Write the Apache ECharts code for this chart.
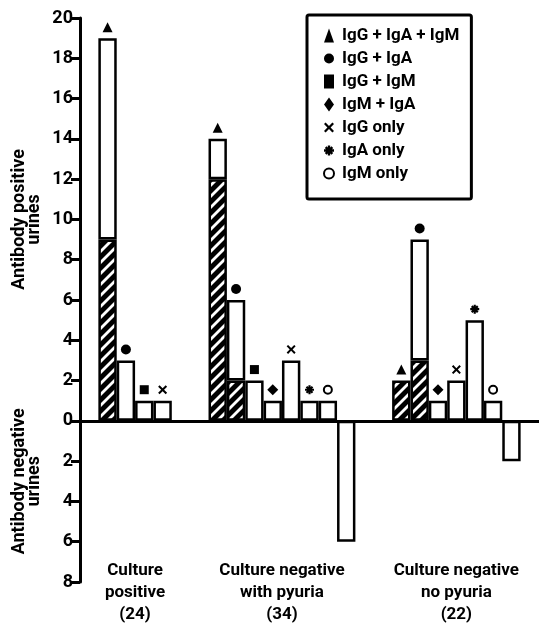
<!DOCTYPE html>
<html>
<head>
<meta charset="utf-8">
<script src="https://cdn.jsdelivr.net/npm/echarts@6/dist/echarts.min.js"></script>
<style>
html,body{margin:0;padding:0;background:#fff;}
#main{width:539px;height:626px;}
</style>
</head>
<body>
<div id="main"></div>
<script>
// antibody class combinations, legend order
const combos = ['IgG + IgA + IgM', 'IgG + IgA', 'IgG + IgM', 'IgM + IgA', 'IgG only', 'IgA only', 'IgM only'];
const groupNames = ['Culture\npositive\n(24)', 'Culture negative\nwith pyuria\n(34)', 'Culture negative\nno pyuria\n(22)'];

// per group: combo of each bar, bar total, hatched part, antibody negative count
const groupCombos = [[0, 1, 2, 4], [0, 1, 2, 3, 4, 5, 6], [0, 1, 3, 4, 5, 6]];
const groupTotals = [[19, 3, 1, 1], [14, 6, 2, 1, 3, 1, 1], [2, 9, 1, 2, 5, 1]];
const groupHatched = [[9, 0, 0, 0], [12, 2, 0, 0, 0, 0, 0], [2, 3, 0, 0, 0, 0]];
const groupNegative = [0, 6, 2];

// build the bar slots (one empty slot before, two between groups, one after)
let cats = [], hatched = [], open = [], neg = [], groupCenters = [];
let marks = combos.map(() => []);
function pushEmpty() {
	cats.push('slot' + cats.length); hatched.push('-'); open.push('-'); neg.push('-');
}
pushEmpty();
groupCombos.forEach((list, g) => {
	if (g > 0) { pushEmpty(); pushEmpty(); }
	const first = cats.length;
	list.forEach((c, i) => {
		const idx = cats.length;
		const t = groupTotals[g][i], h = groupHatched[g][i];
		cats.push('slot' + idx);
		hatched.push(h > 0 ? h : '-');
		open.push(t - h > 0 ? t - h : '-');
		neg.push('-');
		marks[c].push([idx, t]);
	});
	if (groupNegative[g] > 0) {
		cats.push('slot' + cats.length); hatched.push('-'); open.push('-'); neg.push(-groupNegative[g]);
	}
	groupCenters.push((first + cats.length) / 2);
});
pushEmpty();

// hatch pattern: white diagonal stripes on black
const hatch = document.createElement('canvas');
hatch.width = 11; hatch.height = 11;
const hc = hatch.getContext('2d');
hc.fillStyle = '#000'; hc.fillRect(0, 0, 11, 11);
hc.strokeStyle = '#fff'; hc.lineWidth = 2.8;
[-11, 0, 11].forEach(dx => {
	hc.beginPath(); hc.moveTo(dx - 1, 12); hc.lineTo(dx + 12, -1); hc.stroke();
});

const symbols = [
	'triangle', 'circle', 'rect', 'diamond',
	'path://M0,1.6L1.6,0L5,3.4L8.4,0L10,1.6L6.6,5L10,8.4L8.4,10L5,6.6L1.6,10L0,8.4L3.4,5Z',
	'path://M3.8,0H6.2V10H3.8Z M0,3.8H10V6.2H0Z M0.8,2.5L2.5,0.8L9.2,7.5L7.5,9.2Z M7.5,0.8L9.2,2.5L2.5,9.2L0.8,7.5Z',
	'emptyCircle'
];
const symbolSizes = [10, 10, 9, 11, 9, 9, 8];

const font = 'Roboto';
let chart = echarts.init(document.getElementById('main'));

let barBase = {
	type: 'bar', stack: 'n', barWidth: '100%', barCategoryGap: '0%',
	silent: true
};

let series = [
	Object.assign({}, barBase, { name: 'hatched', data: hatched,
		itemStyle: { color: { image: hatch, repeat: 'repeat' }, borderColor: '#000', borderWidth: 2.5 } }),
	Object.assign({}, barBase, { name: 'open', data: open,
		itemStyle: { color: '#fff', borderColor: '#000', borderWidth: 2.5 } }),
	Object.assign({}, barBase, { name: 'negative', data: neg,
		itemStyle: { color: '#fff', borderColor: '#000', borderWidth: 2.5 } })
];
combos.forEach((name, c) => {
	series.push({
		type: 'scatter', name: name, data: marks[c],
		symbol: symbols[c], symbolSize: symbolSizes[c], symbolOffset: [0, -11],
		symbolKeepAspect: true, z: 5,
		itemStyle: { color: '#000', borderColor: '#000', borderWidth: c === 6 ? 2 : 0, opacity: 1 }
	});
});

chart.setOption({
	animation: false,
	textStyle: { fontFamily: font, fontWeight: 'bold', color: '#000' },
	grid: { left: 80, top: 18, width: 462, bottom: 37 },
	legend: {
		orient: 'vertical', left: 307, top: 15,
		padding: [12, 12, 17, 16], itemGap: 6, itemWidth: 10, itemHeight: 14,
		borderColor: '#000', borderWidth: 3, borderRadius: 2,
		textStyle: { fontSize: 17, fontWeight: 'bold', fontFamily: font, color: '#000', padding: [0, 0, 0, 3] },
		data: combos
	},
	xAxis: [{
		type: 'category', data: cats,
		axisLine: { onZero: true, lineStyle: { color: '#000', width: 3 } },
		axisTick: { show: false }, axisLabel: { show: false }
	}, {
		type: 'value', min: 0, max: cats.length, position: 'bottom', offset: -22,
		axisLine: { show: false }, axisTick: { show: false }, splitLine: { show: false },
		axisLabel: {
			customValues: groupCenters,
			formatter: v => groupNames[groupCenters.indexOf(v)] || '',
			margin: 0, fontSize: 17, lineHeight: 22, verticalAlign: 'top',
			color: '#000', fontWeight: 'bold', fontFamily: font
		}
	}],
	yAxis: {
		type: 'value', min: -8, max: 20, interval: 2, offset: 2,
		axisLine: { show: true, lineStyle: { color: '#000', width: 3 } },
		axisTick: { show: true, length: 9, lineStyle: { color: '#000', width: 3 } },
		axisLabel: { formatter: v => Math.abs(v), fontSize: 18, margin: 5, color: '#000', fontWeight: 'bold', fontFamily: font },
		splitLine: { show: false }
	},
	series: series
});

// rotated axis titles, placed through the y scale
const yPos = chart.convertToPixel({ yAxisIndex: 0 }, 10);
const yNeg = chart.convertToPixel({ yAxisIndex: 0 }, -3);
const titleStyle = { align: 'center', verticalAlign: 'middle', font: 'bold 18px Roboto', lineHeight: 15, fill: '#000' };
chart.setOption({
	graphic: [
		{ type: 'text', x: 27, y: yPos, rotation: Math.PI / 2,
			style: Object.assign({ text: 'Antibody positive\nurines' }, titleStyle) },
		{ type: 'text', x: 27, y: yNeg, rotation: Math.PI / 2,
			style: Object.assign({ text: 'Antibody negative\nurines' }, titleStyle) }
	]
});
</script>
</body>
</html>
